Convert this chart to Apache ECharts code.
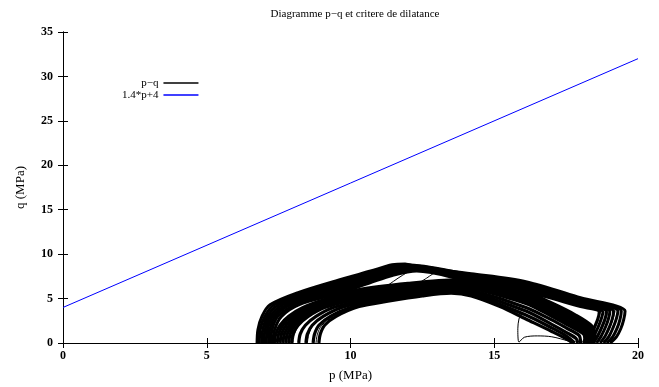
<!DOCTYPE html>
<html>
<head>
<meta charset="utf-8">
<script src="https://cdn.jsdelivr.net/npm/echarts@6/dist/echarts.min.js"></script>
<style>
  html, body { margin: 0; padding: 0; background: #fff; }
  #chart { width: 659px; height: 387px; }
</style>
</head>
<body>
<div id="chart"></div>
<script>
// Stress path p–q (MPa) recorded over the loading cycles.
// Cycles whose loading branch climbs to the peak near p = 12 MPa.
const upperCycles = [
  [[6.75,0],[6.78,1.5],[6.92,3.0],[7.2,4.3],[8.2,5.7],[9.6,7.1],[10.7,8.1],[11.45,8.8],[11.9,8.9],[12.3,8.6],[14.2,7.8],[16.1,6.9],[18.0,5.1],[19.55,3.6],[19.5,2.6],[19.4,1.6],[19.25,0.7],[19.03,0]],
  [[6.83,0],[6.86,1.5],[7.02,3.0],[7.34,4.3],[8.2,5.5],[9.6,6.9],[10.7,7.9],[11.45,8.6],[11.95,8.8],[14.2,7.67],[16.1,6.75],[18.0,4.95],[19.42,3.6],[19.37,2.6],[19.27,1.65],[19.12,0.7],[18.91,0]],
  [[6.91,0],[6.95,1.5],[7.11,3.0],[7.49,4.3],[8.2,5.3],[9.6,6.7],[10.7,7.7],[11.45,8.45],[12.0,8.75],[14.2,7.55],[16.1,6.6],[18.0,4.8],[19.3,3.6],[19.24,2.65],[19.13,1.7],[18.99,0.75],[18.8,0]],
  [[6.99,0],[7.03,1.5],[7.2,3.0],[7.63,4.3],[8.2,5.1],[9.6,6.5],[10.7,7.5],[11.45,8.3],[12.05,8.6],[14.2,7.4],[16.1,6.45],[18.0,4.65],[19.15,3.55],[19.1,2.65],[19.0,1.75],[18.86,0.8],[18.68,0]],
  [[7.07,0],[7.11,1.5],[7.29,3.0],[7.77,4.3],[8.2,4.9],[9.6,6.3],[10.7,7.35],[11.45,8.15],[12.1,8.5],[14.2,7.3],[16.1,6.3],[18.0,4.55],[19.02,3.55],[18.97,2.7],[18.87,1.8],[18.73,0.85],[18.56,0]],
  [[7.15,0],[7.19,1.5],[7.38,3.0],[7.9,4.3],[9.6,6.05],[10.7,7.2],[11.45,8.0],[12.15,8.4],[14.2,7.2],[16.1,6.15],[18.0,4.4],[18.9,3.55],[18.85,2.7],[18.74,1.8],[18.6,0.85],[18.44,0]],
  [[7.22,0],[7.27,1.5],[7.47,3.0],[8.2,4.5],[9.6,5.85],[10.7,7.0],[11.45,7.8],[12.2,8.25],[14.2,7.05],[16.1,5.95],[18.0,4.25],[18.78,3.5],[18.72,2.7],[18.62,1.85],[18.48,0.9],[18.32,0]],
  [[7.3,0],[7.36,1.5],[7.6,3.0],[8.2,4.3],[9.6,5.6],[10.7,6.8],[11.45,7.6],[12.3,8.1],[14.2,6.9],[16.1,5.8],[18.0,4.1],[18.65,3.5],[18.6,2.7],[18.5,1.9],[18.35,0.9],[18.2,0]]
];

// Cycles whose loading branch follows the lower band.
const lowerCycles = [
  [[7.35,0],[7.4,1],[7.55,2],[7.85,3],[8.35,4],[9.2,5],[10.3,6.0],[12,6.7],[13.7,7.1],[14.2,6.9],[16.1,5.75],[17.0,4.5],[17.8,3.2],[18.4,1.9],[18.5,0.8],[18.45,0]],
  [[7.45,0],[7.5,1],[7.65,2],[7.96,3],[8.47,4],[9.35,5],[10.45,5.95],[12,6.6],[13.68,7.0],[14.2,6.8],[16.1,5.52],[17.0,4.25],[17.8,2.95],[18.35,1.75],[18.45,0.75],[18.4,0]],
  [[7.55,0],[7.6,1],[7.76,2],[8.08,3],[8.6,4],[9.5,5],[10.6,5.9],[12,6.5],[13.65,6.9],[14.2,6.7],[16.1,5.3],[17.0,4.0],[17.8,2.7],[18.3,1.6],[18.4,0.7],[18.35,0]],
  [[7.65,0],[7.7,1],[7.87,2],[8.19,3],[8.72,4],[9.65,4.95],[10.75,5.8],[12,6.37],[13.62,6.8],[14.2,6.57],[16.1,5.1],[17.0,3.75],[17.75,2.5],[18.25,1.45],[18.35,0.65],[18.3,0]],
  [[7.75,0],[7.8,1],[7.97,2],[8.3,3],[8.85,4],[9.8,4.9],[10.9,5.7],[12,6.25],[13.6,6.7],[14.2,6.45],[16.1,4.9],[17.0,3.5],[17.7,2.3],[18.2,1.3],[18.3,0.6],[18.25,0]],
  [[7.85,0],[7.9,1],[8.07,2],[8.41,3],[8.97,4],[9.95,4.87],[11.05,5.6],[12,6.1],[13.6,6.57],[14.2,6.32],[16.1,4.68],[17.0,3.25],[17.65,2.12],[18.15,1.17],[18.22,0.52],[18.17,0]],
  [[7.95,0],[8.0,1],[8.18,2],[8.53,3],[9.1,4],[10.1,4.85],[11.2,5.5],[12,5.95],[13.6,6.45],[14.2,6.2],[16.1,4.45],[17.0,3.0],[17.6,1.95],[18.1,1.05],[18.15,0.45],[18.1,0]],
  [[8.2,0],[8.25,1],[8.43,2],[8.8,3],[9.4,4],[10.5,4.85],[12,5.7],[13.55,6.2],[14.2,5.95],[16.1,4.0],[17.0,2.6],[17.5,1.7],[17.95,0.85],[18.0,0]],
  [[8.45,0],[8.5,1],[8.67,2],[9.05,3],[9.7,4],[10.8,4.8],[12,5.45],[13.55,5.95],[14.2,5.7],[16.1,3.6],[17.0,2.1],[17.5,1.2],[17.85,0.5],[17.9,0]],
  [[8.7,0],[8.75,1],[8.9,2],[9.3,3],[10.0,4],[11.1,4.75],[12,5.25],[13.5,5.75],[14.2,5.5],[16.1,3.15],[17.0,1.7],[17.5,0.8],[17.8,0]],
  [[8.9,0],[8.95,1],[9.1,2],[9.5,3],[10.3,4.1],[11.3,4.7],[12.5,5.3],[13.5,5.6],[14.2,5.3],[15.2,4.1],[16.1,2.7],[17.0,1.3],[17.6,0.3],[17.7,0]]
];

// Transitional cycles crossing from the lower band up to the peak.
const crossingCycles = [
  [[8.0,0],[8.05,1],[8.2,2],[8.5,3],[9.0,4],[9.6,5.1],[10.3,6.3],[11.0,7.6],[11.5,8.4],[12.0,8.6],[14.2,7.6],[16.1,6.5],[18.0,4.7],[19.2,3.6],[19.1,2.4],[18.95,1.2],[18.7,0]],
  [[8.5,0],[8.55,1],[8.7,2],[9.05,3],[9.7,4],[10.5,5.1],[11.2,6.3],[11.8,7.6],[12.3,8.4],[12.7,8.3],[14.2,7.5],[16.1,6.35],[18.0,4.55],[18.95,3.55],[18.85,2.4],[18.7,1.2],[18.5,0]],
  [[8.8,0],[8.85,1],[9.0,2],[9.4,3],[10.1,4],[11.2,5.0],[12.0,6.0],[12.6,7.2],[13.0,7.9],[13.3,7.9],[14.2,7.35],[16.1,6.1],[18.0,4.35],[18.7,3.6],[18.6,2.4],[18.45,1.2],[18.3,0]]
];

// First loading from the initial state.
const initialPath = [[15.95,3.3],[15.86,2.7],[15.82,1.6],[15.86,0.1],[16.05,0.65],[16.5,0.8],[17.0,0.7],[17.6,0.2],[17.75,0]];

// Dilatancy criterion q = 1.4 p + 4, end points.
const criterionP = [0, 20];
const criterionQ = [4, 32];

const xTicks = [0, 5, 10, 15, 20];
const yTicks = [0, 5, 10, 15, 20, 25, 30, 35];

const serif = '"Liberation Serif", "DejaVu Serif", serif';
const pathName = 'p\u2212q';
const critName = '1.4*p+4';

const series = [];
function addPath(points, width) {
  series.push({
    name: pathName, type: 'line', data: points,
    xAxisIndex: 0, yAxisIndex: 0,
    symbol: 'none', smooth: 0.3,
    itemStyle: { color: '#000' },
    lineStyle: { color: '#000', width: width },
    silent: true, animation: false
  });
}
upperCycles.forEach(c => addPath(c, 3.0));
lowerCycles.forEach(c => addPath(c, 3.2));
crossingCycles.forEach(c => addPath(c, 1));
addPath(initialPath, 1);

series.push({
  name: critName, type: 'line',
  data: criterionP.map((p, i) => [p, criterionQ[i]]),
  xAxisIndex: 0, yAxisIndex: 0,
  symbol: 'none',
  itemStyle: { color: '#0000ff' },
  lineStyle: { color: '#0000ff', width: 1 },
  silent: true, animation: false
});

const xMin = xTicks[0], xMax = xTicks[xTicks.length - 1];
const yMin = yTicks[0], yMax = yTicks[yTicks.length - 1];

const axisCommon = {
  type: 'value',
  interval: 5,
  axisLine: { show: true, lineStyle: { color: '#000', width: 1 } },
  axisTick: { show: true, inside: true, length: 5, lineStyle: { color: '#000' } },
  splitLine: { show: false }
};

const chart = echarts.init(document.getElementById('chart'), null, { renderer: 'canvas' });
chart.setOption({
  animation: false,
  backgroundColor: '#fff',
  title: {
    text: 'Diagramme p\u2212q et critere de dilatance',
    left: 350, top: 4, textAlign: 'center',
    textStyle: { fontFamily: serif, fontSize: 11, fontWeight: 'normal', color: '#000' }
  },
  legend: {
    data: [
      { name: pathName, icon: 'rect', itemStyle: { color: '#000' } },
      { name: critName, icon: 'rect', itemStyle: { color: '#0000ff' } }
    ],
    orient: 'vertical',
    align: 'right',
    left: 117, top: 72,
    itemWidth: 35, itemHeight: 1.3, itemGap: 0,
    textStyle: { fontFamily: serif, fontSize: 11, color: '#000', lineHeight: 12 },
    selectedMode: false
  },
  grid: { left: 63, right: 21, top: 32, bottom: 44 },
  xAxis: [
    Object.assign({}, axisCommon, {
      position: 'bottom', min: xMin, max: xMax,
      name: 'p (MPa)', nameLocation: 'middle', nameGap: 26,
      nameTextStyle: { fontFamily: serif, fontSize: 13, color: '#000' },
      axisLabel: { fontFamily: serif, fontSize: 12, fontWeight: 'bold', color: '#000', margin: 7 }
    }),
    Object.assign({}, axisCommon, {
      position: 'top', min: xMin, max: xMax,
      axisLabel: { show: false }
    })
  ],
  yAxis: [
    Object.assign({}, axisCommon, {
      position: 'left', min: yMin, max: yMax,
      name: 'q (MPa)', nameLocation: 'middle', nameGap: 36,
      nameTextStyle: { fontFamily: serif, fontSize: 13, color: '#000' },
      axisLabel: { fontFamily: serif, fontSize: 12, fontWeight: 'bold', color: '#000', margin: 10 }
    }),
    Object.assign({}, axisCommon, {
      position: 'right', min: yMin, max: yMax,
      axisLabel: { show: false }
    })
  ],
  series: series
});
</script>
</body>
</html>
